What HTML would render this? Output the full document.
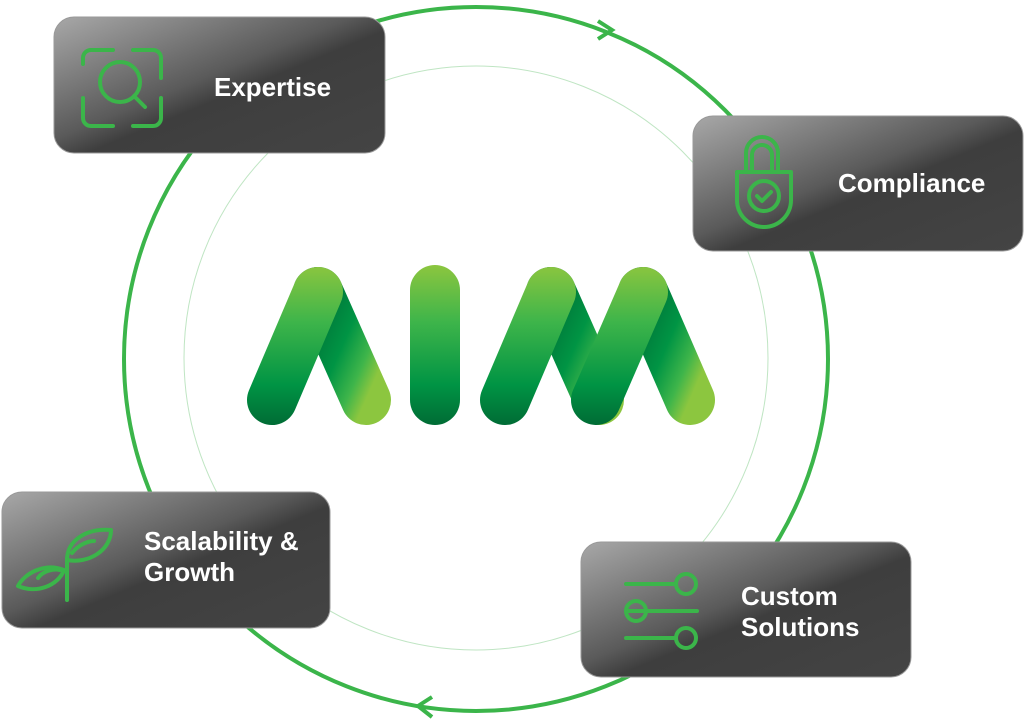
<!DOCTYPE html>
<html><head><meta charset="utf-8"><style>
html,body{margin:0;padding:0;background:#fff;width:1024px;height:722px;overflow:hidden}
text{font-family:"Liberation Sans",sans-serif;font-weight:bold;fill:#fff;font-size:26px}
</style></head><body>
<svg width="1024" height="722" viewBox="0 0 1024 722" xmlns="http://www.w3.org/2000/svg">
<defs>
<linearGradient id="box" x1="0" y1="0" x2="1" y2="1">
<stop offset="0" stop-color="#a8a8a8"/><stop offset="0.45" stop-color="#5a5a5a"/><stop offset="0.55" stop-color="#3e3e3e"/><stop offset="1" stop-color="#444"/>
</linearGradient>
<linearGradient id="gl" gradientUnits="userSpaceOnUse" x1="0" y1="265" x2="0" y2="425">
<stop offset="0" stop-color="#8cc63f"/><stop offset="0.35" stop-color="#3fb54a"/><stop offset="0.75" stop-color="#009444"/><stop offset="1" stop-color="#006c35"/>
</linearGradient>
<linearGradient id="gr" x1="0" y1="0" x2="1" y2="1">
<stop offset="0" stop-color="#006c35"/><stop offset="0.5" stop-color="#009444"/><stop offset="0.8" stop-color="#3fb54a"/><stop offset="1" stop-color="#8cc63f"/>
</linearGradient>
</defs>
<circle cx="476" cy="358" r="292" fill="none" stroke="#bfe5c3" stroke-width="1"/>
<circle cx="476" cy="359" r="352" fill="none" stroke="#3bb54a" stroke-width="4"/>
<path d="M598 21 L612 30 L598 39" fill="none" stroke="#3bb54a" stroke-width="4"/>
<path d="M432 697 L418 706 L432 717" fill="none" stroke="#3bb54a" stroke-width="4"/>
<g stroke-linecap="round" fill="none" stroke-width="50">
<line x1="318" y1="292" x2="366" y2="400" stroke="url(#gr)"/>
<line x1="318" y1="292" x2="272" y2="400" stroke="url(#gl)"/>
<line x1="435" y1="290" x2="435" y2="400" stroke="url(#gl)"/>
<line x1="551" y1="292" x2="599" y2="400" stroke="url(#gr)"/>
<line x1="551" y1="292" x2="505" y2="400" stroke="url(#gl)"/>
<line x1="643" y1="292" x2="690" y2="400" stroke="url(#gr)"/>
<line x1="643" y1="292" x2="596" y2="400" stroke="url(#gl)"/>
</g>
<g stroke="#999" stroke-width="1">
<rect x="54" y="17" width="331" height="136" rx="20" fill="url(#box)"/>
<rect x="693" y="116" width="330" height="135" rx="20" fill="url(#box)"/>
<rect x="2" y="492" width="328" height="136" rx="20" fill="url(#box)"/>
<rect x="581" y="542" width="330" height="135" rx="20" fill="url(#box)"/>
</g>
<g fill="none" stroke="#3bb54a" stroke-width="4" stroke-linecap="round" stroke-linejoin="round">
<path d="M83 64 V58 a8 8 0 0 1 8 -8 H113 M133 50 H153 a8 8 0 0 1 8 8 V78 M161 98 V118 a8 8 0 0 1 -8 8 H133 M113 126 H91 a8 8 0 0 1 -8 -8 V98"/>
<circle cx="120" cy="82" r="20"/><line x1="134" y1="96" x2="145" y2="107"/>
<path d="M746 172 V153 a16 16 0 0 1 32 0 V172 M752 172 V155 a10 10 0 0 1 20 0 V172"/>
<path d="M737 172 H791 V200 a27 27 0 0 1 -54 0 Z"/>
<circle cx="764" cy="196" r="15"/><path d="M757 196 l5 5 l9 -9"/>
<path d="M67 600 V558 M67 560 c0 -20 20 -32 44 -30 c0 20 -22 34 -44 30 M72 553 c6 -8 16 -12 22 -12"/>
<path d="M64 570 c-20 -8 -40 4 -46 16 c18 8 40 0 46 -16 M60 570 c-8 -2 -18 2 -22 8"/>
<path d="M626 584 H674 M626 611 H697 M626 638 H674"/>
<circle cx="686" cy="584" r="10"/><circle cx="636" cy="611" r="10"/><circle cx="686" cy="638" r="10"/>
</g>
<text x="214" y="96">Expertise</text>
<text x="838" y="192">Compliance</text>
<text x="144" y="550">Scalability &amp;</text>
<text x="144" y="581">Growth</text>
<text x="741" y="605">Custom</text>
<text x="741" y="636">Solutions</text>
</svg>
</body></html>
